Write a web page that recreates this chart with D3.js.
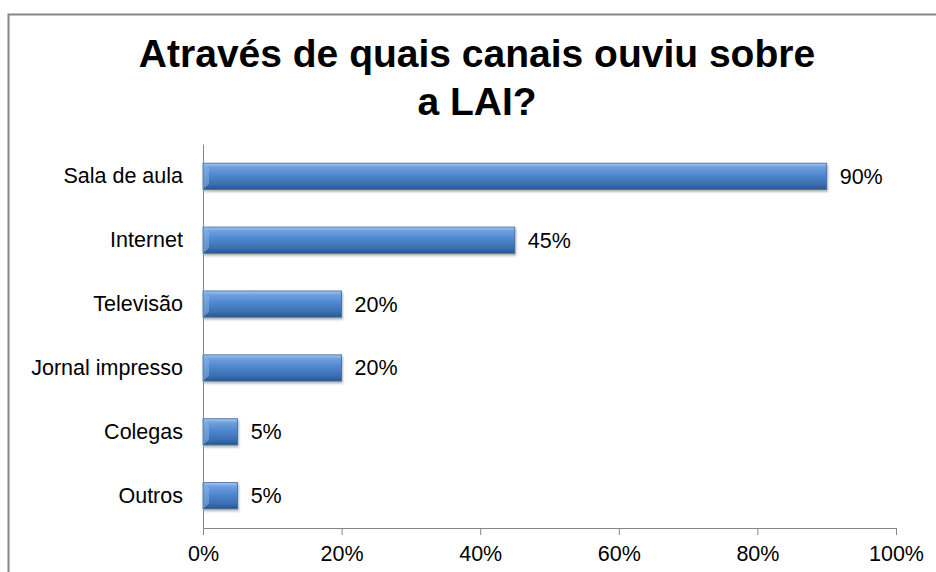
<!DOCTYPE html>
<html>
<head>
<meta charset="utf-8">
<script src="https://cdn.jsdelivr.net/npm/d3@7"></script>
<style>
  body { margin: 0; background: #fff; }
  text { font-family: "Liberation Sans", Arial, sans-serif; fill: #000; }
</style>
</head>
<body>
<div id="chart"></div>
<script>
const categories = ["Sala de aula", "Internet", "Televisão", "Jornal impresso", "Colegas", "Outros"];
const values = [90, 45, 20, 20, 5, 5];
const tickValues = [0, 20, 40, 60, 80, 100];
const titleLines = ["Através de quais canais ouviu sobre", "a LAI?"];

const W = 936, H = 572;
const margin = { top: 144, right: 40, bottom: 44, left: 203 };
const width = 896 - margin.left;
const height = 528 - margin.top;
const labelSize = "21.5px";

const svg = d3.select("#chart").append("svg")
  .attr("width", W).attr("height", H);

// chart frame (cut off at right and bottom like the original)
svg.append("path")
  .attr("d", "M8.5," + H + " V14.5 H" + W)
  .attr("fill", "none").attr("stroke", "#868686").attr("stroke-width", 2);

const defs = svg.append("defs");
const grad = defs.append("linearGradient").attr("id", "barGrad")
  .attr("x1", 0).attr("y1", 0).attr("x2", 0).attr("y2", 1);
grad.append("stop").attr("offset", "0%").attr("stop-color", "#a9c6ee");
grad.append("stop").attr("offset", "15%").attr("stop-color", "#6d9fe0");
grad.append("stop").attr("offset", "45%").attr("stop-color", "#4f87cf");
grad.append("stop").attr("offset", "80%").attr("stop-color", "#3b6fb2");
grad.append("stop").attr("offset", "100%").attr("stop-color", "#2b568c");

const shadow = defs.append("filter").attr("id", "shadow")
  .attr("x", "-5%").attr("y", "-20%").attr("width", "115%").attr("height", "160%");
shadow.append("feDropShadow").attr("dx", 1).attr("dy", 2)
  .attr("stdDeviation", 1.2).attr("flood-color", "#000").attr("flood-opacity", 0.3);

// title
svg.selectAll(".title")
  .data(titleLines)
  .enter()
  .append("text")
  .attr("class", "title")
  .attr("x", 477)
  .attr("y", (d, i) => 67 + i * 48)
  .attr("text-anchor", "middle")
  .style("font-size", "39px").style("font-weight", "bold")
  .text((d) => d);

const g = svg.append("g")
  .attr("transform", "translate(" + margin.left + "," + margin.top + ")");

const xScale = d3.scaleLinear().domain([0, 100]).range([0, width]);
const yScale = d3.scaleBand().domain(categories).range([0, height]).paddingInner(0.59).paddingOuter(0.3);

// bars
g.selectAll(".bar")
  .data(categories)
  .enter()
  .append("rect")
  .attr("class", "bar")
  .attr("x", xScale(0))
  .attr("y", (d) => yScale(d))
  .attr("width", (d, i) => xScale(values[i]) - xScale(0))
  .attr("height", yScale.bandwidth())
  .attr("fill", "url(#barGrad)")
  .attr("stroke", "#3a679e")
  .attr("stroke-width", 0.8)
  .attr("filter", "url(#shadow)");

// bevel highlight on the left end of each bar
g.selectAll(".bevel")
  .data(categories)
  .enter()
  .append("path")
  .attr("class", "bevel")
  .attr("d", (d) => {
    const y0 = yScale(d), b = yScale.bandwidth();
    return "M0," + y0 + " L6," + (y0 + 5) + " L6," + (y0 + b - 5) + " L0," + (y0 + b) + " Z";
  })
  .attr("fill", "#8fb6e8").attr("opacity", 0.5);

// value labels
g.selectAll(".value")
  .data(categories)
  .enter()
  .append("text")
  .attr("class", "value")
  .attr("x", (d, i) => xScale(values[i]) + 13)
  .attr("y", (d) => yScale(d) + yScale.bandwidth() / 2)
  .attr("dy", "0.35em")
  .style("font-size", labelSize)
  .text((d, i) => values[i] + "%");

// y axis
const yAxis = d3.axisLeft(yScale).tickSize(0).tickPadding(20);
const yG = g.append("g").attr("class", "y-axis").call(yAxis);
yG.select(".domain").attr("stroke", "#868686");
yG.selectAll("text").style("font-size", labelSize)
  .style("font-family", "'Liberation Sans', Arial, sans-serif").attr("fill", "#000");

// x axis
const xAxis = d3.axisBottom(xScale).tickValues(tickValues)
  .tickFormat((d) => d + "%").tickSize(7).tickSizeOuter(7).tickPadding(11);
const xG = g.append("g").attr("class", "x-axis")
  .attr("transform", "translate(0," + height + ")").call(xAxis);
xG.select(".domain").attr("stroke", "#868686");
xG.selectAll(".tick line").attr("stroke", "#868686");
xG.selectAll("text").style("font-size", labelSize)
  .style("font-family", "'Liberation Sans', Arial, sans-serif").attr("fill", "#000");
</script>
</body>
</html>
